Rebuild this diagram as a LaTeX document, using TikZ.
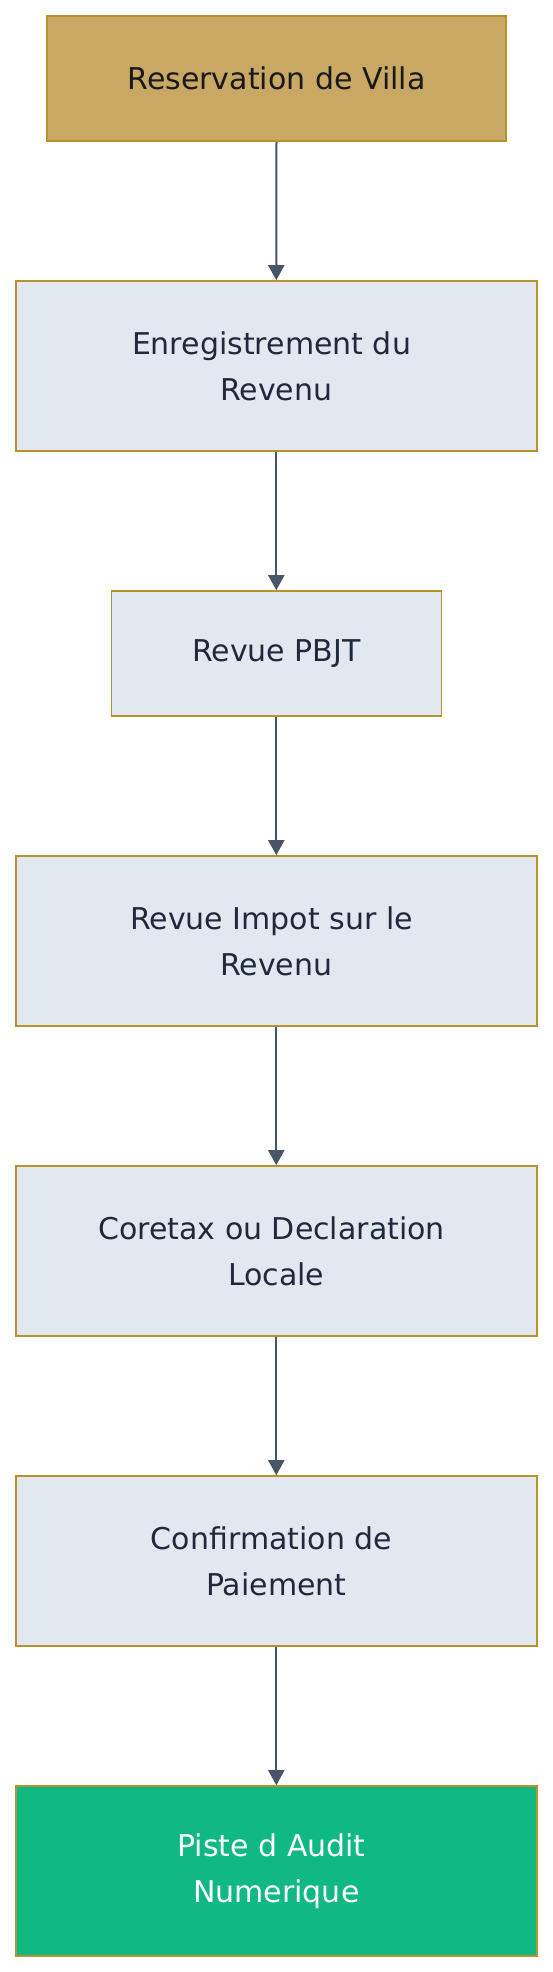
\documentclass[tikz,border=0pt]{standalone}
\usepackage{fontspec}
\setmainfont{DejaVu Sans}
\usetikzlibrary{arrows.meta}
\definecolor{goldfill}{HTML}{C9A864}
\definecolor{goldline}{HTML}{B8922A}
\definecolor{lightfill}{HTML}{E2E8F0}
\definecolor{darktext}{HTML}{1E293B}
\definecolor{arrowcol}{HTML}{475569}
\definecolor{greenfill}{HTML}{10B981}
\newcommand{\trsp}{\hspace*{0.318em}}
\tikzset{
  box/.style={draw=goldline, line width=0.8pt, fill=lightfill, text=darktext,
    inner sep=0pt, align=center, minimum width=260.5pt, minimum height=85pt,
    font=\fontsize{15pt}{23pt}\selectfont},
  startbox/.style={box, fill=goldfill, text={black!90}, minimum width=229.5pt, minimum height=62.5pt},
  midbox/.style={box, minimum width=165pt, minimum height=62.5pt},
  endbox/.style={box, fill=greenfill, text=white},
  flow/.style={draw=arrowcol, line width=1pt, -{Triangle[length=7.5pt,width=8pt]}}
}
\begin{document}
\begin{tikzpicture}[x=0.5pt,y=-0.5pt]
\useasboundingbox (0,0) rectangle (552,1972);
\node[startbox] (n1) at (276.5,78.5) {Reservation de Villa};
\node[box] (n2) at (276.3,366) {Enregistrement du\trsp\\Revenu};
\node[midbox] (n3) at (276.3,653.5) {Revue PBJT};
\node[box] (n4) at (276.3,941) {Revue Impot sur le\trsp\\Revenu};
\node[box] (n5) at (276.3,1251) {Coretax ou Declaration\trsp\\Locale};
\node[box] (n6) at (276.3,1561) {Confirmation de\trsp\\Paiement};
\node[endbox] (n7) at (276.3,1871) {Piste d Audit\trsp\\Numerique};
\draw[flow] (n1.south) -- (n2.north);
\draw[flow] (n2.south) -- (n3.north);
\draw[flow] (n3.south) -- (n4.north);
\draw[flow] (n4.south) -- (n5.north);
\draw[flow] (n5.south) -- (n6.north);
\draw[flow] (n6.south) -- (n7.north);
\end{tikzpicture}
\end{document}
